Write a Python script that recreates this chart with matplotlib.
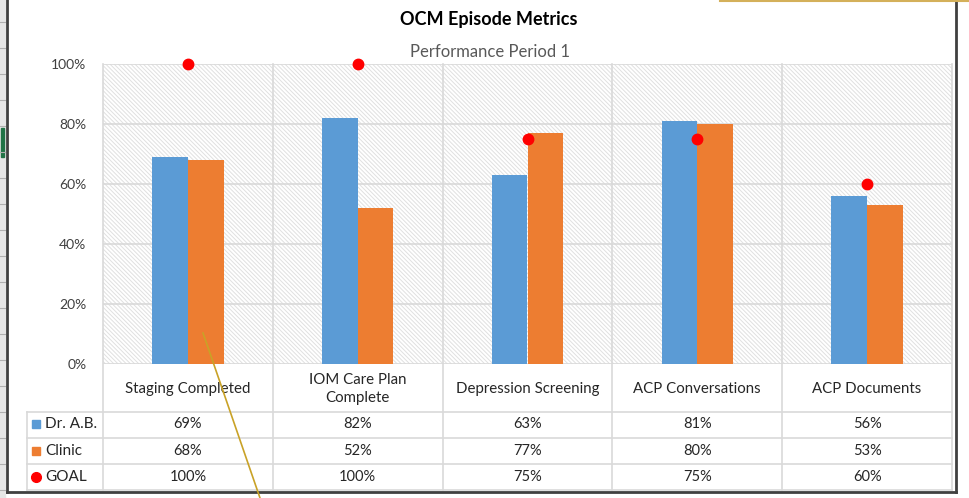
import matplotlib.pyplot as plt
import matplotlib.transforms as mtransforms
from matplotlib.patches import Rectangle
from matplotlib.lines import Line2D

plt.rcParams['font.family'] = ['Lato', 'DejaVu Sans']
plt.rcParams['hatch.linewidth'] = 0.7

categories = ['Staging Completed', 'IOM Care Plan\nComplete', 'Depression Screening',
              'ACP Conversations', 'ACP Documents']
dr_ab = [0.69, 0.82, 0.63, 0.81, 0.56]
clinic = [0.68, 0.52, 0.77, 0.80, 0.53]
goal = [1.00, 1.00, 0.75, 0.75, 0.60]
series_names = ['Dr. A.B.', 'Clinic', 'GOAL']

blue = '#5b9bd5'
orange = '#ed7d31'
red = '#ff0000'
grid_c = '#d9d9d9'
txt_c = '#404040'

W, H = 970, 498
fig = plt.figure(figsize=(W / 100, H / 100), dpi=100)

# plot area in pixels: x 103..952, y 64..364
L, R, T, B = 103, 952, 64, 364
ax = fig.add_axes([L / W, (H - B) / H, (R - L) / W, (B - T) / H])

def ya(ypx):
    # pixel row -> axes fraction
    return (B - ypx) / (B - T)

def fx(xpx):
    return xpx / W

def fy(ypx):
    return (H - ypx) / H

n = len(categories)
x = list(range(n))
bw = 0.21

# hatched background
ax.add_patch(Rectangle((0, 0), 1, 1, transform=ax.transAxes, facecolor='white',
                       edgecolor='#e0e0e0', linewidth=0, hatch='\\' * 8, zorder=0))

ax.bar([i - bw / 2 for i in x], dr_ab, width=bw, color=blue, zorder=3)
ax.bar([i + bw / 2 for i in x], clinic, width=bw, color=orange, zorder=3)
ax.plot(x, goal, 'o', color=red, markersize=7.5, zorder=4, clip_on=False)

ax.set_xlim(-0.5, n - 0.5)
ax.set_ylim(0, 1)
ax.set_yticks([0, 0.2, 0.4, 0.6, 0.8, 1.0])
ax.set_yticklabels(['0%', '20%', '40%', '60%', '80%', '100%'], fontsize=10, color=txt_c)
ax.set_xticks([])
ax.tick_params(axis='y', length=0, pad=12)
for s in ax.spines.values():
    s.set_visible(False)
ax.grid(axis='y', color=grid_c, linewidth=1.2, zorder=1)
ax.set_axisbelow(True)

# data table below the plot
tr = mtransforms.blended_transform_factory(ax.transData, ax.transAxes)
row_lines = [412, 438, 464, 490]
bounds = [i - 0.5 for i in range(n + 1)]
for b in bounds:
    ax.add_line(Line2D([b, b], [1, ya(490)], transform=tr, color=grid_c,
                       linewidth=1.2, clip_on=False, zorder=2))
for k, yl in enumerate(row_lines):
    ax.add_line(Line2D([27, R], [ya(yl), ya(yl)], color=grid_c, linewidth=1.2,
                       transform=mtransforms.blended_transform_factory(
                           mtransforms.IdentityTransform(), ax.transAxes),
                       clip_on=False, zorder=2))
fig.add_artist(Line2D([fx(27), fx(27)], [fy(412), fy(490)], color=grid_c, linewidth=1.2))

for i, c in enumerate(categories):
    ax.text(i, ya(389), c, transform=tr, ha='center', va='center', fontsize=10.8,
            color='#262626', linespacing=1.35)

rows = [dr_ab, clinic, goal]
row_y = [424, 451, 477]
for vals, yy in zip(rows, row_y):
    for i, v in enumerate(vals):
        ax.text(i, ya(yy), f'{round(v * 100)}%', transform=tr, ha='center',
                va='center', fontsize=10.5, color='#262626')

# legend keys in the table
fig.add_artist(Rectangle((fx(32), fy(428)), 8 / W, 8 / H, color=blue))
fig.add_artist(Rectangle((fx(32), fy(455)), 8 / W, 8 / H, color=orange))
fig.add_artist(Line2D([fx(36)], [fy(477)], marker='o', color=red, markersize=7))
for name, yy in zip(series_names, row_y):
    fig.text(fx(45), fy(yy), name, ha='left', va='center', fontsize=11, color='#262626')

# titles
fig.text(fx(489), fy(19), 'OCM Episode Metrics', ha='center', va='center',
         fontsize=13, fontweight='bold', color='#000000')
fig.text(fx(490), fy(52), 'Performance Period 1', ha='center', va='center',
         fontsize=12, color='#595959')

# chart frame and spreadsheet bits
fig.add_artist(Rectangle((0, 0), fx(5), 1, color='#e6e6e6', zorder=0))
for yr in range(22, 498, 26):
    fig.add_artist(Line2D([0, fx(5)], [fy(yr), fy(yr)], color='#b0b0b0', linewidth=0.8))
fig.add_artist(Rectangle((fx(1), fy(157)), 3 / W, 29 / H, color='#217346'))
fig.add_artist(Line2D([fx(7), fx(7)], [fy(0), fy(492)], color='#404040', linewidth=2))
fig.add_artist(Line2D([fx(956), fx(956)], [fy(0), fy(492)], color='#404040', linewidth=2))
fig.add_artist(Line2D([fx(7), fx(956)], [fy(492), fy(492)], color='#404040', linewidth=2))
fig.add_artist(Line2D([fx(720), fx(970)], [fy(1), fy(1)], color='#d4b05a', linewidth=1.5))
fig.add_artist(Line2D([fx(203), fx(260)], [fy(333), fy(498)], color='#c9a227', linewidth=1.2))

fig.savefig('out.png', dpi=100)
